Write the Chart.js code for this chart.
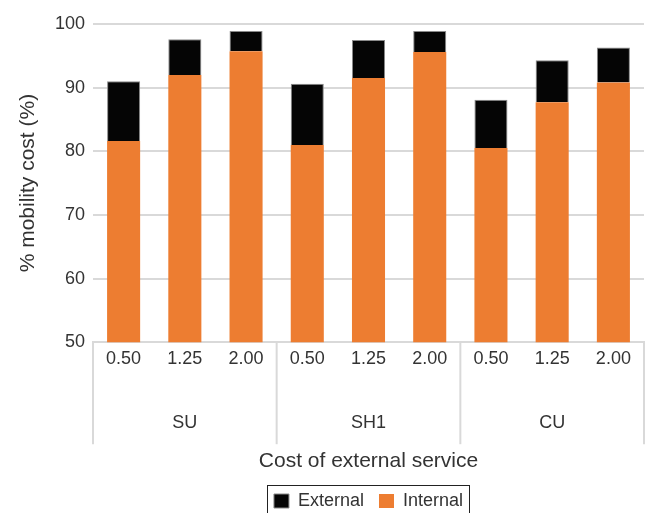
<!DOCTYPE html>
<html>
<head>
<meta charset="utf-8">
<script src="https://cdn.jsdelivr.net/npm/chart.js@4.4.1/dist/chart.umd.min.js"></script>
<style>
  html, body { margin: 0; padding: 0; background: #ffffff; }
  #wrap { width: 646px; height: 513px; }
</style>
</head>
<body>
<div id="wrap"><canvas id="c" width="646" height="513"></canvas></div>
<script>
// ---- data ----
const groups = ['SU', 'SH1', 'CU'];
const costs = ['0.50', '1.25', '2.00'];
const internalCost = [81.6, 92.0, 95.7, 81.0, 91.5, 95.6, 80.5, 87.7, 90.8];
const externalCost = [9.4, 5.6, 3.2, 9.6, 6.0, 3.3, 7.6, 6.6, 5.5];
const yTicks = [50, 60, 70, 80, 90, 100];

const labels = groups.flatMap(() => costs);
const TEXT = '#333333';
const GRID = '#d9d9d9';

Chart.defaults.font.family = "'Liberation Sans', Arial, Helvetica, sans-serif";
Chart.defaults.color = TEXT;

// vertical divider lines between groups, positioned from the x scale
const dividers = {
  id: 'dividers',
  afterDraw(chart) {
    const xs = chart.scales.x, x2 = chart.scales.x2;
    const ctx = chart.ctx;
    const step = xs.getPixelForValue(1) - xs.getPixelForValue(0);
    const top = chart.chartArea.bottom;
    const bottom = x2.top + 42;
    ctx.save();
    ctx.strokeStyle = GRID;
    ctx.lineWidth = 2;
    for (let g = 0; g <= groups.length; g++) {
      const i = g * costs.length;
      const x = (i < labels.length ? xs.getPixelForValue(i) : xs.getPixelForValue(labels.length - 1) + step) - step / 2;
      ctx.beginPath();
      ctx.moveTo(x, top);
      ctx.lineTo(x, bottom);
      ctx.stroke();
    }
    ctx.restore();
  }
};

// centre the legend under the plot area and frame it
const legendFrame = {
  id: 'legendFrame',
  afterUpdate(chart) {
    const lg = chart.legend;
    if (!lg) return;
    const d = (chart.chartArea.left + chart.chartArea.right) / 2 - (lg.left + lg.right) / 2;
    lg.left += d; lg.right += d;
    if (lg.legendHitBoxes) lg.legendHitBoxes.forEach(h => { h.left += d; });
  },
  afterDraw(chart) {
    const lg = chart.legend;
    if (!lg || !lg.legendHitBoxes || !lg.legendHitBoxes.length) return;
    const hb = lg.legendHitBoxes;
    let l = Infinity, r = -Infinity, t = Infinity, b = -Infinity;
    hb.forEach(h => { l = Math.min(l, h.left); r = Math.max(r, h.left + h.width); t = Math.min(t, h.top); b = Math.max(b, h.top + h.height); });
    const ctx = chart.ctx;
    ctx.save();
    ctx.strokeStyle = '#222222';
    ctx.lineWidth = 1;
    ctx.strokeRect(Math.round(l - 7) + 0.5, Math.round(t - 7) + 0.5, Math.round(r - l + 13), Math.round(b - t + 20));
    ctx.restore();
  }
};

new Chart(document.getElementById('c'), {
  type: 'bar',
  data: {
    labels: labels,
    datasets: [
      { label: 'Internal', data: internalCost, backgroundColor: '#ED7D31', borderWidth: 0 },
      { label: 'External', data: externalCost, backgroundColor: '#050505', borderColor: '#8a8a8a', borderWidth: 1, borderSkipped: 'bottom' }
    ]
  },
  options: {
    responsive: false,
    animation: false,
    layout: { padding: { left: 0, right: 2, top: 24, bottom: -7 } },
    datasets: { bar: { categoryPercentage: 1, barPercentage: 0.54 } },
    plugins: {
      tooltip: { enabled: false },
      legend: {
        position: 'bottom',
        reverse: true,
        labels: {
          font: { size: 18 },
          color: TEXT,
          boxWidth: 15,
          boxHeight: 14,
          padding: 15
        }
      }
    },
    scales: {
      x: {
        stacked: true,
        grid: { display: false, drawTicks: false },
        border: { display: true, color: GRID, width: 2 },
        ticks: { font: { size: 18 }, color: TEXT, padding: 6, maxRotation: 0, autoSkip: false },
        afterFit(s) { s.height = 60; }
      },
      x2: {
        type: 'category',
        labels: groups,
        offset: true,
        position: 'bottom',
        grid: { display: false, drawTicks: false },
        border: { display: false },
        ticks: { font: { size: 18 }, color: TEXT, padding: 10, maxRotation: 0 },
        title: { display: true, text: 'Cost of external service', font: { size: 21 }, color: TEXT, padding: { top: 5, bottom: 3 } }
      },
      y: {
        stacked: true,
        min: 50,
        max: 100,
        afterBuildTicks(s) { s.ticks = yTicks.map(v => ({ value: v })); },
        grid: { color: GRID, lineWidth: 2, drawTicks: false },
        border: { display: false },
        ticks: { font: { size: 18 }, color: TEXT, padding: 8 },
        title: { display: true, text: '% mobility cost (%)', font: { size: 21 }, color: TEXT, padding: { top: 16, bottom: 6 } },
        afterFit(s) { s.width = 93; }
      }
    }
  },
  plugins: [dividers, legendFrame]
});
</script>
</body>
</html>
